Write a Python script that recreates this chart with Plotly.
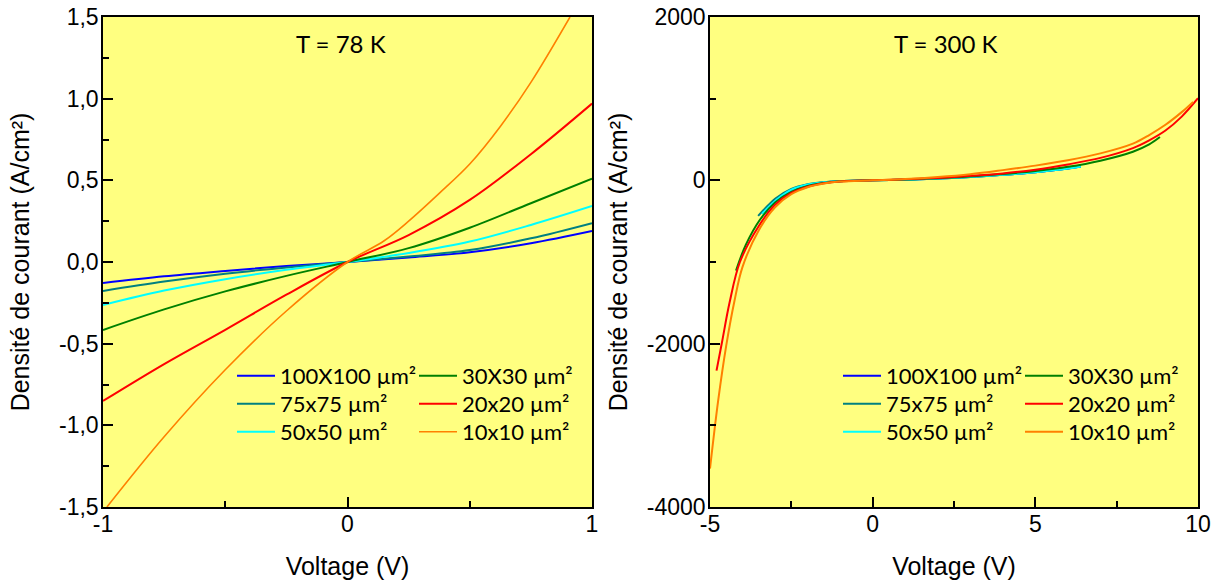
import plotly.graph_objects as go

# ---------------- data: T = 78 K ----------------
L_V = [-1, -0.75, -0.5, -0.25, 0, 0.25, 0.5, 0.75, 1]
L_blue = [-0.129, -0.088, -0.055, -0.025, 0, 0.028, 0.06, 0.115, 0.19]
L_teal = [-0.177, -0.12, -0.072, -0.033, 0, 0.033, 0.073, 0.145, 0.238]
L_cyan = [-0.263, -0.175, -0.105, -0.048, 0, 0.055, 0.125, 0.227, 0.343]
L_green = [-0.416, -0.29, -0.18, -0.085, 0, 0.085, 0.21, 0.36, 0.51]
L_red = [-0.851, -0.625, -0.415, -0.2, 0, 0.165, 0.38, 0.66, 0.97]
L_V_orange = [-0.984, -0.75, -0.5, -0.25, 0, 0.15, 0.25, 0.375, 0.5, 0.625, 0.75, 0.91]
L_orange = [-1.5, -1.07, -0.66, -0.30, 0, 0.13, 0.25, 0.42, 0.6, 0.83, 1.1, 1.5]

# ---------------- data: T = 300 K ----------------
R_V_blue = [-3.28, -3, -2.5, -2, -1.5, -1, 0, 1, 2, 3, 4, 5, 6, 6.4]
R_blue = [-385, -255, -118, -55, -25, -10, 0, 8, 22, 42, 68, 100, 145, 168]
R_V_teal = [-3.52, -3.25, -3, -2.5, -2, -1.5, -1, 0, 1, 2, 3, 4, 5, 6, 6.4]
R_teal = [-435, -320, -225, -105, -48, -22, -9, 0, 8, 22, 42, 68, 100, 145, 170]
R_V_cyan = [-3.4, -3.1, -2.8, -2.5, -2, -1.5, -1, 0, 1, 2, 3, 4, 5, 6, 6.4]
R_cyan = [-410, -290, -190, -115, -52, -24, -10, 0, 8, 22, 42, 68, 100, 145, 170]
R_V_green = [-4.2, -3.9, -3.46, -3, -2.5, -2, -1.5, -1, 0, 1, 2, 3, 4, 5, 6, 7, 8, 8.5, 8.83]
R_green = [-1105, -790, -480, -270, -140, -68, -32, -12, 0, 10, 25, 48, 78, 115, 165, 240, 350, 440, 530]
R_V_red = [-4.8, -4.63, -4.4, -4.08, -3.5, -3, -2.5, -2, -1.5, -1, 0, 1, 2, 3, 4, 5, 6, 7, 8, 8.5, 9, 9.5, 10]
R_red = [-2330, -1980, -1500, -1000, -560, -300, -155, -78, -36, -14, 0, 12, 30, 55, 85, 130, 195, 275, 395, 490, 610, 780, 1005]
R_V_orange = [-5, -4.75, -4.5, -4.25, -4, -3.5, -3, -2.5, -2, -1.5, -1, 0, 1, 2, 3, 4, 5, 6, 7, 8, 8.5, 9, 9.5, 9.85]
R_orange = [-3530, -2700, -2020, -1480, -1060, -610, -330, -170, -85, -40, -15, 0, 15, 40, 75, 125, 180, 245, 330, 450, 555, 680, 835, 960]

names = ["100X100 µm²", "75x75 µm²", "50x50 µm²", "30X30 µm²", "20x20 µm²", "10x10 µm²"]
colors = ["#0000FF", "#008080", "#00FFFF", "#008000", "#FF0000", "#FF8000"]

# tick labels
L_xticks = [-1, 0, 1]
L_xtext = ["-1", "0", "1"]
L_yticks = [-1.5, -1.0, -0.5, 0.0, 0.5, 1.0, 1.5]
L_ytext = ["-1,5", "-1,0", "-0,5", "0,0", "0,5", "1,0", "1,5"]
R_xticks = [-5, 0, 5, 10]
R_xtext = ["-5", "0", "5", "10"]
R_yticks = [-4000, -2000, 0, 2000]
R_ytext = ["-4000", "-2000", "0", "2000"]

W, H = 1220, 583
def px(x):
    return x / W
def py(y):
    return 1 - y / H

row_of = {0: 0, 3: 0, 1: 1, 4: 1, 2: 2, 5: 2}
left_leg = ["legend", "legend2", "legend3"]
right_leg = ["legend4", "legend5", "legend6"]

left_data = [(L_V, L_blue), (L_V, L_teal), (L_V, L_cyan), (L_V, L_green), (L_V, L_red), (L_V_orange, L_orange)]
right_data = [(R_V_blue, R_blue), (R_V_teal, R_teal), (R_V_cyan, R_cyan), (R_V_green, R_green),
              (R_V_red, R_red), (R_V_orange, R_orange)]

fig = go.Figure()
for i, (xv, yv) in enumerate(left_data):
    fig.add_trace(go.Scatter(x=xv, y=yv, mode="lines", name=names[i],
                             line=dict(color=colors[i], width=2 if i < 5 else 1.6, shape="spline", smoothing=1.0),
                             xaxis="x", yaxis="y", legend=left_leg[row_of[i]]))
for i, (xv, yv) in enumerate(right_data):
    fig.add_trace(go.Scatter(x=xv, y=yv, mode="lines", name=names[i],
                             line=dict(color=colors[i], width=2, shape="spline", smoothing=1.0),
                             xaxis="x2", yaxis="y2", legend=right_leg[row_of[i]]))

tickfont = dict(family="Liberation Sans, Arial", size=23, color="black")
titlefont = dict(family="Liberation Sans, Arial", size=25, color="black")
axis_common = dict(showline=True, mirror=True, linecolor="black", linewidth=1.5, showgrid=False,
                   zeroline=False, ticks="inside", ticklen=10, tickwidth=1.5, tickcolor="black",
                   tickfont=tickfont, automargin=False, tickmode="array")
minor_common = dict(ticks="inside", ticklen=6, tickwidth=1.5, tickcolor="black")

ydom = [py(507), py(17)]
fig.update_layout(
    width=W, height=H,
    margin=dict(l=0, r=0, t=0, b=0),
    paper_bgcolor="white", plot_bgcolor="#FFFF80",
    xaxis=dict(domain=[px(103), px(592)], range=[-1, 1], tickvals=L_xticks, ticktext=L_xtext,
               minor=dict(tickvals=[-0.5, 0.5], **minor_common), ticklabelstandoff=-4,
               title=dict(text="Voltage (V)", font=titlefont, standoff=21), anchor="y", **axis_common),
    yaxis=dict(domain=ydom, range=[-1.5, 1.5], tickvals=L_yticks, ticktext=L_ytext,
               minor=dict(tickvals=[-1.25, -0.75, -0.25, 0.25, 0.75, 1.25], **minor_common),
               ticklabelstandoff=-2,
               title=dict(text="Densité de courant (A/cm²)", font=titlefont, standoff=22), anchor="x", **axis_common),
    xaxis2=dict(domain=[px(710), px(1198)], range=[-5, 10], tickvals=R_xticks, ticktext=R_xtext,
                minor=dict(tickvals=[-2.5, 2.5, 7.5], **minor_common), ticklabelstandoff=-4,
                title=dict(text="Voltage (V)", font=titlefont, standoff=21), anchor="y2", **axis_common),
    yaxis2=dict(domain=ydom, range=[-4000, 2000], tickvals=R_yticks, ticktext=R_ytext,
                minor=dict(tickvals=[-3000, -1000, 1000], **minor_common), ticklabelstandoff=-2,
                title=dict(text="Densité de courant (A/cm²)", font=titlefont, standoff=12), anchor="x2", **axis_common),
    showlegend=True,
)

legfont = dict(family="Lato, Calibri, sans-serif", size=22, color="black")
leg_common = dict(font=legfont, bgcolor="rgba(0,0,0,0)", borderwidth=0, xanchor="left", yanchor="middle",
                  orientation="h", itemwidth=38, entrywidth=129)
row_y = [376, 404, 432]
legend_layout = {}
for r in range(3):
    legend_layout[left_leg[r]] = dict(x=px(232), y=py(row_y[r]), **leg_common)
    legend_layout[right_leg[r]] = dict(x=px(838), y=py(row_y[r]), **leg_common)
fig.update_layout(**legend_layout)

annfont = dict(family="Lato, Calibri, sans-serif", size=24, color="black")
fig.add_annotation(text="T = 78 K", x=px(341), y=py(44), xref="paper", yref="paper",
                   showarrow=False, font=annfont, xanchor="center", yanchor="middle")
fig.add_annotation(text="T = 300 K", x=px(946), y=py(44), xref="paper", yref="paper",
                   showarrow=False, font=annfont, xanchor="center", yanchor="middle")

fig.write_html("out.html", config={"displayModeBar": False},
               post_script="document.body.style.margin='0';document.body.style.padding='0';")
